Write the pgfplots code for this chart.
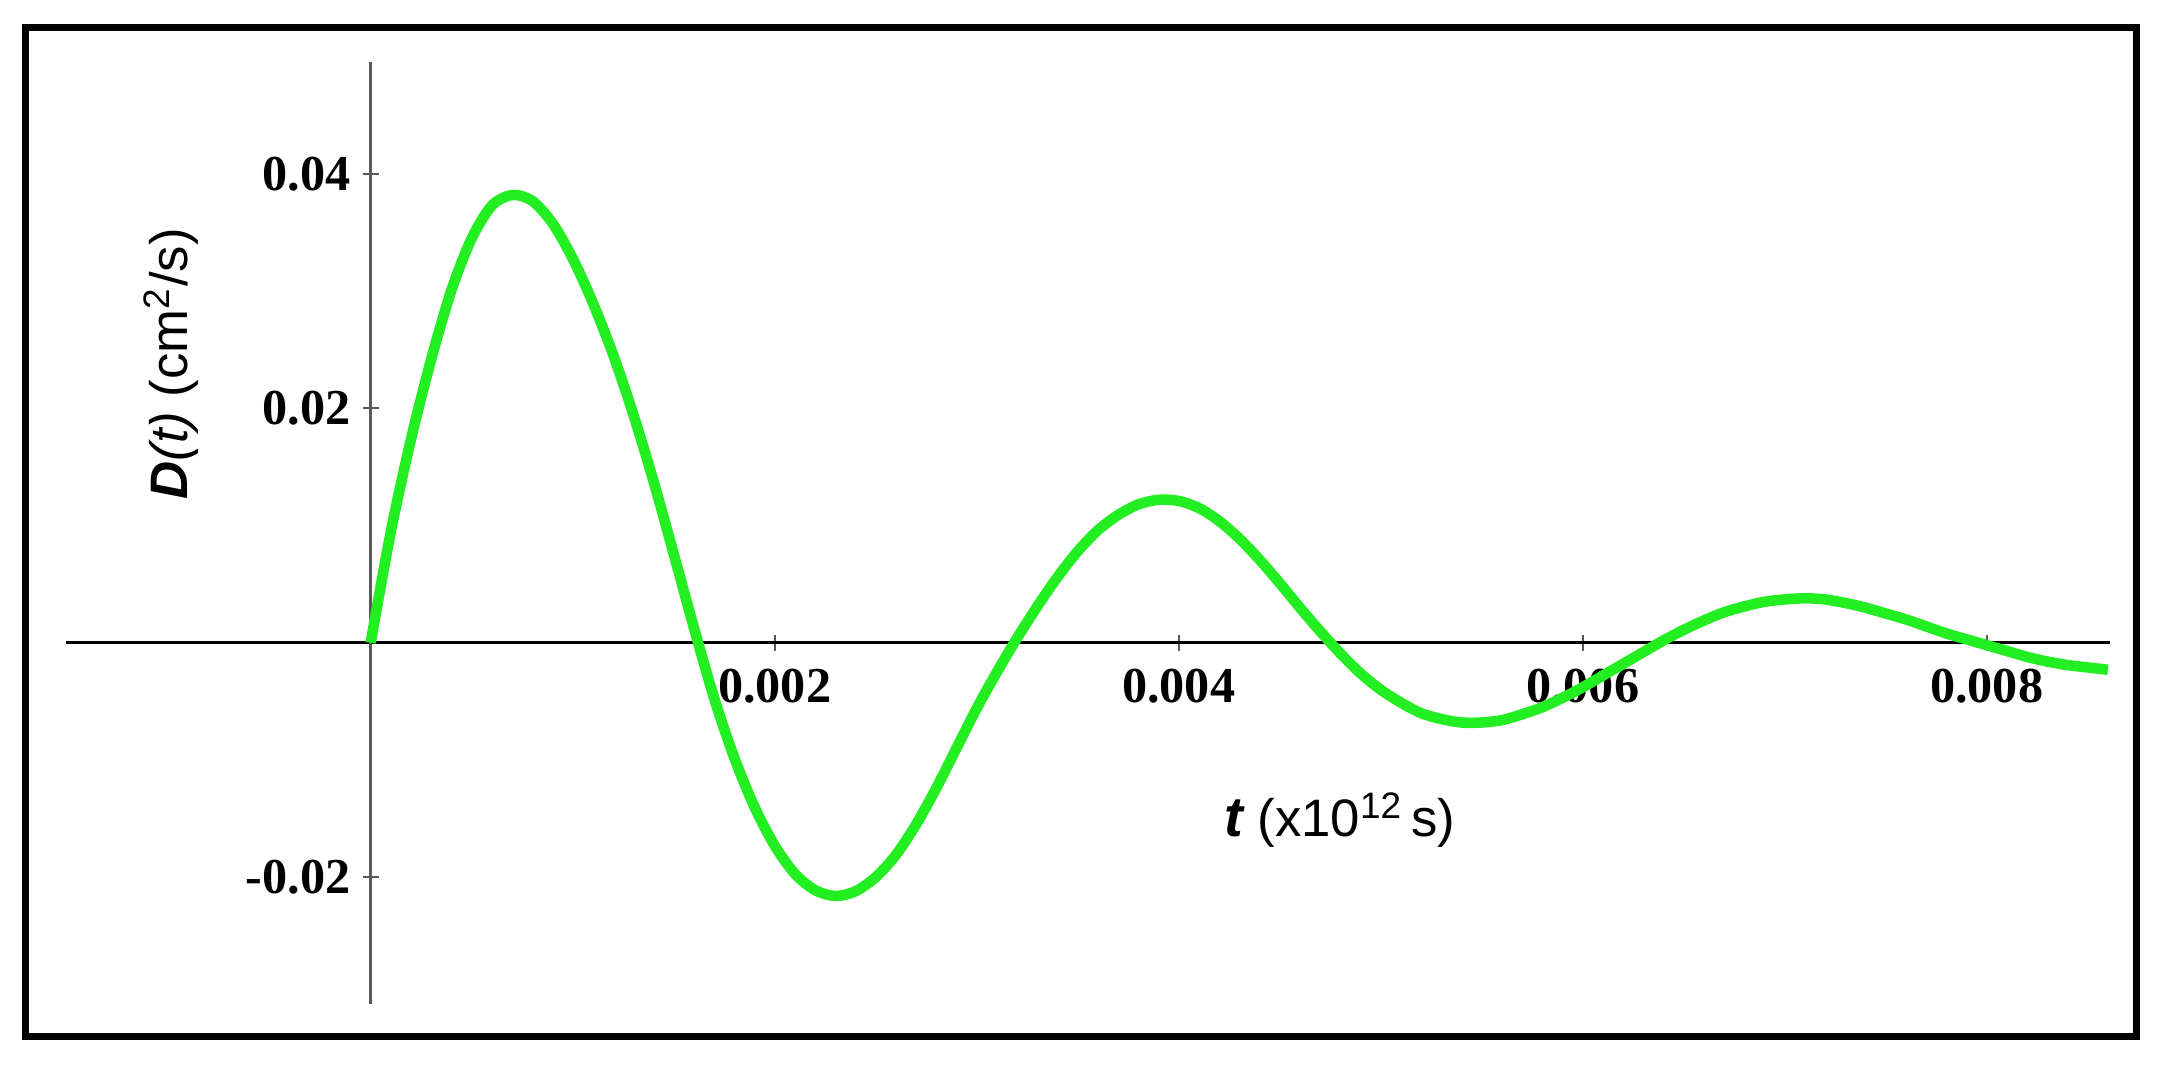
\documentclass[border=0pt]{standalone}
\usepackage{fontspec}
\setmainfont{Liberation Serif}
\newfontfamily\arial{Liberation Sans}
\usepackage{pgfplots}
\pgfplotsset{compat=1.18}
\definecolor{curvegreen}{RGB}{34,238,34}
\begin{document}
\begin{tikzpicture}
\begin{axis}[
  set layers=standard,
  scale only axis, width=204.4mm, height=94.2mm,
  axis lines=middle, axis line style={-},
  x axis line style={black, line width=0.3mm},
  y axis line style={black!65, line width=0.25mm},
  xmin=-0.001507, xmax=0.00861, ymin=-0.0308, ymax=0.04955,
  scaled ticks=false,
  xtick={0.002,0.004,0.006,0.008}, xticklabels={0.002,0.004,0.006,0.008},
  ytick={-0.02,0.02,0.04}, yticklabels={-0.02,0.02,0.04},
  tick align=center, major tick length=1.6mm,
  tick style={black!65, line width=0.2mm},
  tick label style={font=\fontsize{14.3}{16}\selectfont\bfseries},
  xticklabel style={yshift=-0.6mm},
  clip=false,
]
\addplot[curvegreen, line width=3pt, smooth, on layer=axis foreground] coordinates {
  (0,0) (0.0001,0.0095) (0.0002,0.0174) (0.0003,0.0242) (0.0004,0.0301)
  (0.0005,0.0345) (0.0006,0.0373) (0.0007,0.0382) (0.0008,0.0377) (0.0009,0.0358)
  (0.0010,0.0328) (0.0011,0.0290) (0.0012,0.0246) (0.0013,0.0195) (0.0014,0.0138)
  (0.0015,0.0076) (0.0016,0.0013) (0.0017,-0.0047) (0.0018,-0.0098) (0.0019,-0.0140)
  (0.0020,-0.0173) (0.0021,-0.0197) (0.0022,-0.0211) (0.0023,-0.0216) (0.0024,-0.0212)
  (0.0025,-0.0200) (0.0026,-0.0181) (0.0027,-0.0155) (0.0028,-0.0124) (0.0029,-0.0090)
  (0.0030,-0.0056) (0.0031,-0.0025) (0.0032,0.0004) (0.0033,0.0031) (0.0034,0.0056)
  (0.0035,0.0078) (0.0036,0.0096) (0.0037,0.0109) (0.0038,0.0118) (0.0039,0.0122)
  (0.0040,0.0121) (0.0041,0.0115) (0.0042,0.0104) (0.0043,0.0089) (0.0044,0.0071)
  (0.0045,0.0051) (0.0046,0.0030) (0.0047,0.0010) (0.0048,-0.0009) (0.0049,-0.0026)
  (0.0050,-0.0040) (0.0051,-0.0051) (0.0052,-0.0060) (0.0053,-0.0065) (0.0054,-0.0068)
  (0.0055,-0.0068) (0.0056,-0.0066) (0.0057,-0.0061) (0.0058,-0.0055) (0.0059,-0.0047)
  (0.0060,-0.0038) (0.0061,-0.0028) (0.0062,-0.0018) (0.0063,-0.0008) (0.0064,0.0002)
  (0.0065,0.0011) (0.0066,0.0019) (0.0067,0.0026) (0.0068,0.0031) (0.0069,0.0035)
  (0.0070,0.0037) (0.0071,0.0038) (0.0072,0.0037) (0.0073,0.0034) (0.0074,0.0030)
  (0.0075,0.0025) (0.0076,0.0020) (0.0077,0.0014) (0.0078,0.0008) (0.0079,0.0003)
  (0.0080,-0.0002) (0.0081,-0.0007) (0.0082,-0.0012) (0.0083,-0.0016) (0.0084,-0.0019)
  (0.0085,-0.0021) (0.0086,-0.0023)
};
\node[anchor=center] at (axis description cs:0.6232,0.1953)
  {\arial\fontsize{16}{18}\selectfont\bfseries\itshape t\mdseries\upshape\fontsize{15}{17}\selectfont\ (x10\textsuperscript{12}\,s)};
\node[anchor=center, rotate=90] at (axis description cs:0.0512,0.6794)
  {\arial\fontsize{15}{17}\selectfont\bfseries\itshape D\mdseries(t)\upshape\ (cm\textsuperscript{2}/s)};
\coordinate (frA) at (axis cs:-0.001711,-0.0336);
\coordinate (frB) at (axis cs:0.008744,0.05245);
\coordinate (bbA) at (axis cs:-0.001835,-0.03642);
\coordinate (bbB) at (axis cs:0.008888,0.05484);
\end{axis}
\draw[line width=0.7mm] (frA) rectangle (frB);
\path (bbA) rectangle (bbB);
\end{tikzpicture}
\end{document}
